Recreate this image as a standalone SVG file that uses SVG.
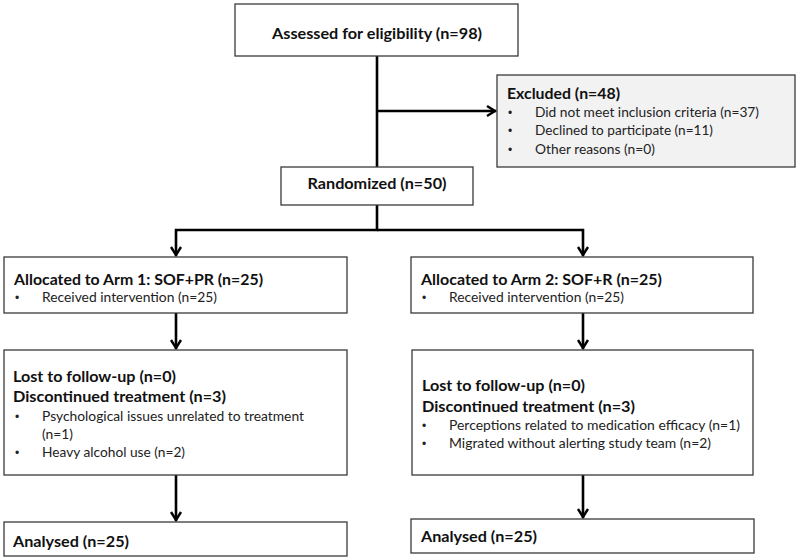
<svg xmlns="http://www.w3.org/2000/svg" width="800" height="560" viewBox="0 0 800 560">
<defs>
<style>
.box{fill:#ffffff;stroke:#3a3a3a;stroke-width:1.3}
.gray{fill:#f2f2f2}
.b{font-family:Lato,"Liberation Sans",sans-serif;font-weight:bold;font-size:15.5px;fill:#111}
.r{font-family:Lato,"Liberation Sans",sans-serif;font-size:13.5px;fill:#222}
.bul{font-family:"Liberation Sans",sans-serif;font-size:12px;fill:#222}
.c{fill:none;stroke:#000;stroke-width:2.6}
</style>
<marker id="ah" viewBox="-1 -7 12 14" refX="9" refY="0" markerWidth="12" markerHeight="14" markerUnits="userSpaceOnUse" orient="auto">
<path d="M0,-5 L8,0 L0,5" fill="none" stroke="#000" stroke-width="2.4"/>
</marker>
</defs>
<rect width="800" height="560" fill="#ffffff"/>
<g id="connectors">
<path class="c" d="M377,56 V167"/>
<path class="c" d="M377,111 H496" marker-end="url(#ah)"/>
<path class="c" d="M377,205 V230 H176 V256" marker-end="url(#ah)"/>
<path class="c" d="M377,230 H583 V256" marker-end="url(#ah)"/>
<path class="c" d="M176,313 V349" marker-end="url(#ah)"/>
<path class="c" d="M583,313 V349" marker-end="url(#ah)"/>
<path class="c" d="M176,475 V521" marker-end="url(#ah)"/>
<path class="c" d="M583,475 V518" marker-end="url(#ah)"/>
</g>
<g id="assessed">
<rect class="box" x="235" y="4" width="283" height="52"/>
<text class="b" x="377" y="39" text-anchor="middle" textLength="210" lengthAdjust="spacingAndGlyphs">Assessed for eligibility (n=98)</text>
</g>
<g id="excluded">
<rect class="box gray" x="497" y="75" width="298" height="92"/>
<text class="b" x="507" y="99" textLength="113" lengthAdjust="spacingAndGlyphs">Excluded (n=48)</text>
<text class="bul" x="508" y="117">•</text>
<text class="r" x="535" y="117" textLength="224" lengthAdjust="spacingAndGlyphs">Did not meet inclusion criteria (n=37)</text>
<text class="bul" x="508" y="135">•</text>
<text class="r" x="535" y="135" textLength="178" lengthAdjust="spacingAndGlyphs">Declined to participate (n=11)</text>
<text class="bul" x="508" y="153.5">•</text>
<text class="r" x="535" y="153.5" textLength="120" lengthAdjust="spacingAndGlyphs">Other reasons (n=0)</text>
</g>
<g id="randomized">
<rect class="box" x="281" y="167" width="192" height="38"/>
<text class="b" x="377" y="189" text-anchor="middle" textLength="139" lengthAdjust="spacingAndGlyphs">Randomized (n=50)</text>
</g>
<g id="arm1">
<rect class="box" x="4" y="257" width="343" height="56"/>
<text class="b" x="14" y="284.5" textLength="249" lengthAdjust="spacingAndGlyphs">Allocated to Arm 1: SOF+PR (n=25)</text>
<text class="bul" x="15" y="301.5">•</text>
<text class="r" x="42" y="301.5" textLength="175" lengthAdjust="spacingAndGlyphs">Received intervention (n=25)</text>
</g>
<g id="arm2">
<rect class="box" x="411" y="257" width="342" height="56"/>
<text class="b" x="421" y="284.5" textLength="241" lengthAdjust="spacingAndGlyphs">Allocated to Arm 2: SOF+R (n=25)</text>
<text class="bul" x="422" y="301.5">•</text>
<text class="r" x="449" y="301.5" textLength="175" lengthAdjust="spacingAndGlyphs">Received intervention (n=25)</text>
</g>
<g id="followup1">
<rect class="box" x="4" y="350" width="343" height="125"/>
<text class="b" x="13" y="382" textLength="163" lengthAdjust="spacingAndGlyphs">Lost to follow-up (n=0)</text>
<text class="b" x="13" y="402" textLength="213" lengthAdjust="spacingAndGlyphs">Discontinued treatment (n=3)</text>
<text class="bul" x="15" y="421">•</text>
<text class="r" x="42" y="421" textLength="262" lengthAdjust="spacingAndGlyphs">Psychological issues unrelated to treatment</text>
<text class="r" x="42" y="439" textLength="31" lengthAdjust="spacingAndGlyphs">(n=1)</text>
<text class="bul" x="15" y="457">•</text>
<text class="r" x="42" y="457" textLength="143" lengthAdjust="spacingAndGlyphs">Heavy alcohol use (n=2)</text>
</g>
<g id="followup2">
<rect class="box" x="412" y="350" width="341" height="125"/>
<text class="b" x="422" y="390.5" textLength="163" lengthAdjust="spacingAndGlyphs">Lost to follow-up (n=0)</text>
<text class="b" x="422" y="411.5" textLength="213" lengthAdjust="spacingAndGlyphs">Discontinued treatment (n=3)</text>
<text class="bul" x="422" y="430">•</text>
<text class="r" x="449" y="430" textLength="291" lengthAdjust="spacingAndGlyphs">Perceptions related to medication efficacy (n=1)</text>
<text class="bul" x="422" y="448">•</text>
<text class="r" x="449" y="448" textLength="262" lengthAdjust="spacingAndGlyphs">Migrated without alerting study team (n=2)</text>
</g>
<g id="analysed1">
<rect class="box" x="4" y="522" width="343" height="34"/>
<text class="b" x="13" y="546.5" textLength="116" lengthAdjust="spacingAndGlyphs">Analysed (n=25)</text>
</g>
<g id="analysed2">
<rect class="box" x="411" y="519" width="343" height="34"/>
<text class="b" x="421" y="541.5" textLength="116" lengthAdjust="spacingAndGlyphs">Analysed (n=25)</text>
</g>
</svg>
